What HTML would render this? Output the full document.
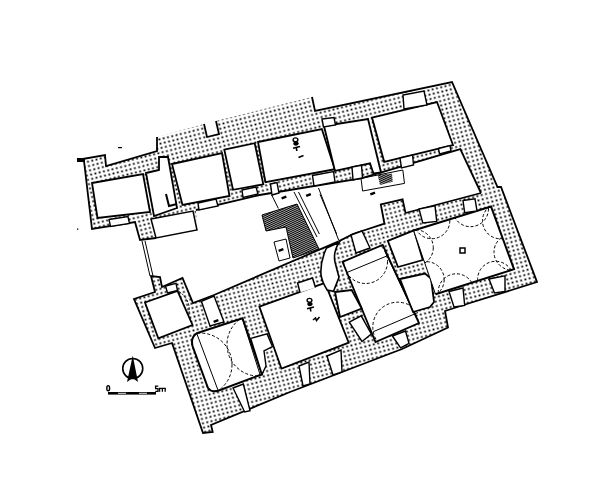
<!DOCTYPE html>
<html><head><meta charset="utf-8">
<style>
html,body{margin:0;padding:0;background:#fff;}
svg{display:block;}
text{font-family:"Liberation Sans",sans-serif;}
</style></head><body>
<svg width="600" height="502" viewBox="0 0 600 502">
<defs>
<pattern id="d" width="4.4" height="4.4" patternUnits="userSpaceOnUse" patternTransform="rotate(-14)">
<rect x="1.3" y="1.3" width="1.8" height="1.8" fill="#000"/>
</pattern>
<pattern id="h" width="1.8" height="1.8" patternUnits="userSpaceOnUse" patternTransform="rotate(25)">
<rect x="0" y="0" width="1.8" height="1.2" fill="#000"/>
</pattern>

<clipPath id="cg"><polygon points="413.6,230.5 491,206.5 514,269.2 435.5,294.3"/></clipPath>
<clipPath id="cv"><polygon points="195,333 242,318 262,375 213,391"/></clipPath>
<clipPath id="ca"><polygon points="342.5,261.8 382.7,245 419,323 375.5,342"/></clipPath>
</defs><rect width="600" height="502" fill="#fff"/>
<polygon fill="url(#d)" points="77,160 105,155 106,166 157,151 157,137 204,124 207,137 219,134 216,121 312,97 315,111 452,82 497.5,187 501,187 537,282 470,303 445,311 448,327.5 402,349 290,392 211,425 212.7,432 203,433 172,343 155,348 134,299 155,292 151,276 160,277 162,287 182.5,278 193,303 214,295 338.6,241.4 353,234 384.4,223.6 380.8,204.4 402.6,199.4 405.5,213 481,193 460.3,149.2 361,178.4 320,185 259.6,195 196,210 197,230 156,238 140,240 135,222 92,229 84,161"/>
<g fill="none" stroke="#000" stroke-width="1.8" stroke-linejoin="miter">
<polyline points="77,160 105,155 106,166 157,151 157,137"/>
<polyline points="204,124 207,137 219,134 216,121"/>
<polyline points="312,97 315,111 452,82 497.5,187 501,187 537,282 470,303 445,311 448,327.5 402,349 290,392 211,425 212.7,432 203,433 172,343 155,348 134,299 155,292 151,276 160,277 162,287 182.5,278 193,303 214,295 338.6,241.4"/>
<polyline points="84,161 92,229 135,222 140,240 156,238"/>
<polyline points="338.6,241.4 353,234 384.4,223.6 380.8,204.4 402.6,199.4 405.5,213 481,193"/>
<polyline points="196,210 259.6,195 320,185 361,178.4"/>
<polyline points="361,178.4 460.3,149.2 481,193"/>
</g>
<line x1="77" y1="160" x2="85" y2="160" stroke="#000" stroke-width="4"/>
<g fill="#fff" stroke="#000" stroke-width="1.8">
<polygon points="92,183 143,174 150,212 97.5,218"/>
<polygon points="146,173 159,170 159,157 168,157 177,208 154,216"/>
<polygon points="172,164 222,153 229.5,196 182.5,205"/>
<polygon points="224.3,149.7 254.7,143.2 263.3,184.3 233,189.8"/>
<polygon points="258,142 321.8,129 334.8,169.2 265.5,182.2"/>
<polygon points="324,126 368,119 381,172.5 373.4,173.3 370,163.4 335,171"/>
<polygon points="372,117.6 437,102 453,145 384.2,161.8"/>
<polygon points="145,302.5 177.5,290.8 192.5,325 158.3,338.3"/>
<polygon points="259.4,306.7 325,283 348.7,342.7 281.5,368.7"/>
<polygon points="387.8,240.8 414,230.3 422.8,260 398,267"/>
<polygon points="342.5,261.8 382.7,245 419,323 375.5,342"/>
<polygon points="400,279 425,273.5 431,278.5 434,302 430,307 413,312"/>
<polygon points="335,292 351.7,290 361.7,308.6 340,317"/>
</g>
<polygon points="413.6,230.5 491,206.5 514,269.2 435.5,294.3" fill="#fff" stroke="none"/>
<polyline points="413.6,230.5 491,206.5 514,269.2 435.5,294.3" fill="none" stroke="#000" stroke-width="2"/>
<line x1="413.6" y1="230.5" x2="435.5" y2="294.3" stroke="#000" stroke-width="1"/>
<path d="M196.7,333.3 L242.5,318.2 L262,374.3 L218.2,390.7 Q211,392.5 208,388 L192.5,346 Q190.5,337 196.7,333.3 Z" fill="#fff" stroke="#000" stroke-width="2"/>
<g fill="#fff" stroke="#000" stroke-width="1.4">
<polygon points="109,219.5 128,216.5 129.5,223.5 110.5,226.5"/>
<polygon points="198,203 216,199 218,206 199,210"/>
<polygon points="242,190 256,187 258,194 243,197.5"/>
<polygon points="270.5,184 277,182.5 279,193 272,195"/>
<polygon points="352,167 361.5,165.3 362.5,178 353,179.8"/>
<polygon points="312.5,175.5 333.5,171.5 335,182 314,186"/>
<polygon points="400,158 412.6,155 413.5,165 401.5,168"/>
<polygon points="438.5,148.5 450,145.5 451,151 439.5,154"/>
<polygon points="201.4,301.3 214,296 224,322 210,326"/>
<polygon points="233,388 243.3,384 250,410.7 244.7,412"/>
<polygon points="299,366 309,362 310,384 303,386"/>
<polygon points="327,356 341,350 342,372 333,375"/>
<polygon points="322,119 334,117.6 335.5,125 323.5,127"/>
<polygon points="250.7,338.4 267.1,333.9 272.4,346.6 264,351 266,366 262,374.3"/>
<polygon points="349.3,322.2 361.2,315.8 371.3,334 362,341.5"/>
<polygon points="392.4,336 405.5,331 409,343.3 400.6,347.9"/>
<polygon points="165.5,286 176,283.4 177.5,290.5 167.5,293"/>
<polygon points="403,95 424,91 427,105 404,109"/>
<polygon points="449,291.5 463,288 464.7,305.5 454,307"/>
<polygon points="489,279 505,275.8 505,291.5 494.5,293"/>
<polygon points="419,209 435,205.8 436.7,221.5 422.8,223"/>
<polygon points="463,200.5 475,198.8 477,211 464.7,212.8"/>
<polygon points="351,235 362,231 370,248 356,253"/>
</g>
<path d="M326.5,248 L339,242.6 Q333,252 335,262 Q337,270 339,277.4 Q336,285 333.5,291.4 L327.2,290 Q322,282 321,274.6 Q320,262 326.5,248 Z" fill="#fff" stroke="#000" stroke-width="1.6"/>
<polygon points="297.6,283 312.5,278 315.5,287.5 300,292.5" fill="#fff"/><polyline points="300,292.5 297.6,283 312.5,278 315.5,287.5" fill="none" stroke="#000" stroke-width="1.5"/>
<polygon points="151,219 193,211 197,230 156,238" fill="#fff" stroke="#000" stroke-width="1.5"/>
<polyline points="166,194 169,206 177,204" fill="none" stroke="#000" stroke-width="2"/>
<polygon fill="url(#h)" stroke="#000" stroke-width="1" points="262,215 297,204 319,249 293,258 286,227 266,231"/>
<polygon fill="#fff" stroke="#000" stroke-width="1" points="274,242 286,239 290,258 279,261"/>
<g stroke="#000" stroke-width="1" fill="none">
<line x1="142" y1="241" x2="150" y2="276"/><line x1="145" y1="241" x2="153" y2="276"/>
<line x1="294" y1="192" x2="317" y2="237"/><line x1="298.5" y1="192" x2="319.4" y2="234"/>
<line x1="318.5" y1="188" x2="338.6" y2="240"/>
<line x1="271.7" y1="195" x2="278.4" y2="208.5"/>
<polygon points="361,178.4 402.8,170 404.5,183.4 362.6,191"/>
<line x1="320" y1="194.3" x2="336.7" y2="234"/>
<line x1="385" y1="251.7" x2="417" y2="319"/>
<line x1="346.7" y1="272.6" x2="386.8" y2="256"/>
<line x1="373.3" y1="331.7" x2="418" y2="312.5"/>
</g>
<polygon fill="url(#h)" points="377.7,175 392,173.4 392.7,181.8 380,185"/>
<g fill="none" stroke="#000" stroke-width="1" stroke-dasharray="3,2">
<g clip-path="url(#cg)"><circle cx="431.8" cy="220.7" r="18"/><circle cx="470.5" cy="208.7" r="18"/><circle cx="500.5" cy="220.8" r="18"/><circle cx="512.0" cy="252.1" r="18"/><circle cx="495.6" cy="279.3" r="18"/><circle cx="456.3" cy="291.8" r="18"/><circle cx="426.2" cy="279.6" r="18"/><circle cx="415.3" cy="247.7" r="18"/></g>
<g clip-path="url(#cv)"><circle cx="200.5" cy="364.6" r="31.5"/><circle cx="258.5" cy="344.6" r="31.5"/></g>
<g clip-path="url(#ca)"><circle cx="365.6" cy="261.6" r="21.9"/><circle cx="397.7" cy="327.1" r="24.9"/></g>
</g>
<rect x="460" y="248" width="5" height="5" fill="none" stroke="#000" stroke-width="1.5"/>
<circle cx="132.75" cy="368.5" r="10" fill="none" stroke="#000" stroke-width="1.6"/>
<polygon points="132.75,355.5 138,382 132.75,378 127,382" fill="#000"/>
<rect x="108" y="392" width="48" height="2.6" fill="#000"/>
<rect x="118" y="392.8" width="8" height="0.9" fill="#fff"/><rect x="139" y="392.8" width="8" height="0.9" fill="#fff"/>
<ellipse cx="108.2" cy="388.2" rx="1.4" ry="2.6" fill="none" stroke="#000" stroke-width="1.4"/>
<path d="M158.3,386.2 H155.6 V388.6 H158 V391.3 H155.3 M159.6,391.8 V388.4 H165.2 V391.8 M162.4,388.4 V391.8" fill="none" stroke="#000" stroke-width="1.3"/>
<path d="M178.5,291 Q191,300 189,313" fill="none" stroke="#000" stroke-width="1" stroke-dasharray="2.5,1.5"/>
<g stroke="#000" stroke-width="1" fill="none"><line x1="196.7" y1="333.3" x2="218.2" y2="390.7"/><line x1="242.4" y1="319" x2="260.3" y2="375.4"/></g>
<g transform="translate(0,0)" stroke="#000" fill="none">
<ellipse cx="295.5" cy="139.8" rx="2.4" ry="1.9" stroke-width="1.4"/>
<ellipse cx="296" cy="143.6" rx="2.7" ry="2.1" fill="#000" stroke="none"/>
<line x1="293" y1="148.2" x2="300" y2="146.4" stroke-width="1.5"/>
<line x1="296.3" y1="147.4" x2="296.8" y2="151" stroke-width="1.6"/>
<line x1="298.5" y1="157.5" x2="303.5" y2="155.5" stroke-width="1.8"/>
</g>
<g transform="translate(14,160.5)" stroke="#000" fill="none">
<ellipse cx="295.5" cy="139.8" rx="2.4" ry="1.9" stroke-width="1.4"/>
<ellipse cx="296" cy="143.6" rx="2.7" ry="2.1" fill="#000" stroke="none"/>
<line x1="293" y1="148.2" x2="300" y2="146.4" stroke-width="1.5"/>
<line x1="296.3" y1="147.4" x2="296.8" y2="151" stroke-width="1.6"/>
<path d="M299,159.5 L301.5,157.5 L302.5,160 L305.5,156.5" stroke-width="1.6"/>
</g>
<rect x="281.5" y="196.4" width="5" height="2.4" fill="#000" transform="rotate(-20 284 197.6)"/>
<rect x="306.0" y="193.8" width="5" height="2.4" fill="#000" transform="rotate(-20 308.5 195)"/>
<rect x="370.2" y="192.3" width="5" height="2.4" fill="#000" transform="rotate(-20 372.7 193.5)"/>
<rect x="278.5" y="248.8" width="5" height="2.4" fill="#000" transform="rotate(-20 281 250)"/>
<rect x="213.5" y="319.8" width="5" height="2.4" fill="#000" transform="rotate(-20 216 321)"/>
<rect x="118" y="147" width="4" height="1.2" fill="#000"/><rect x="77" y="228.5" width="1.3" height="1.3" fill="#000"/>
</svg></body></html>
